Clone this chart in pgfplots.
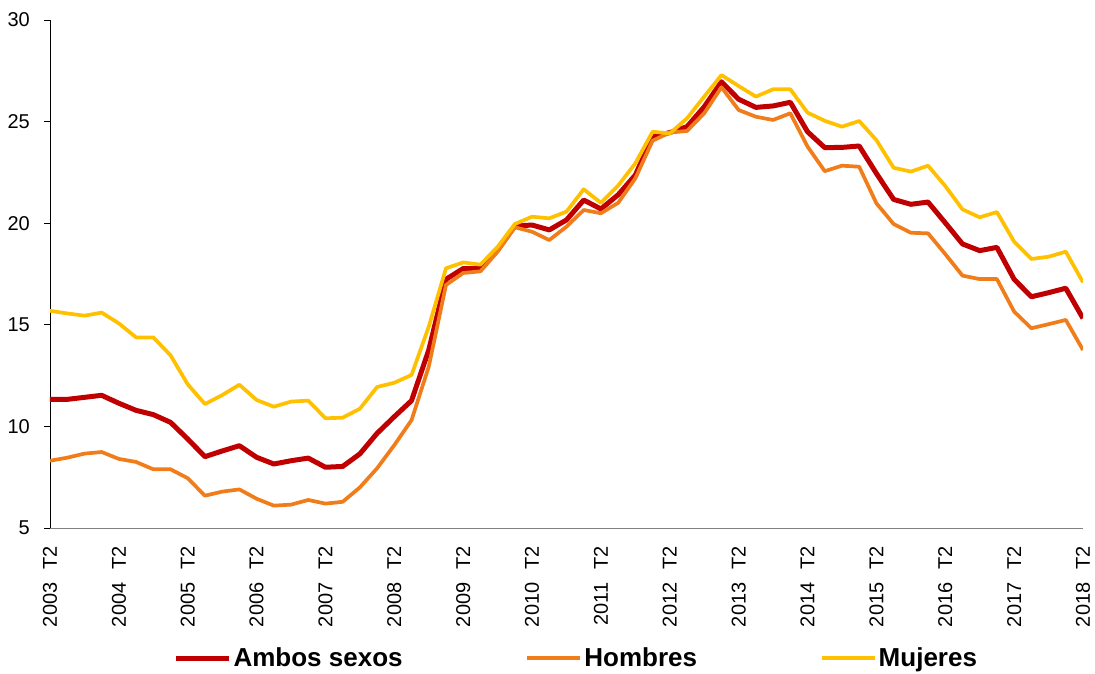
\documentclass[border=0pt]{standalone}
\usepackage{pgfplots}
\pgfplotsset{compat=1.18}
\usepackage{fontspec}
\setmainfont{Liberation Sans}
\definecolor{cAmbos}{HTML}{C00000}
\definecolor{cHom}{HTML}{F07D1A}
\definecolor{cMuj}{HTML}{FFC000}
\pgfplotstableread{
i ambos hombres mujeres
0 11.33 8.31 15.69
1 11.33 8.46 15.56
2 11.43 8.66 15.45
3 11.53 8.74 15.60
4 11.14 8.40 15.07
5 10.79 8.25 14.38
6 10.58 7.89 14.38
7 10.20 7.89 13.50
8 9.38 7.45 12.07
9 8.51 6.59 11.10
10 8.79 6.79 11.54
11 9.05 6.90 12.05
12 8.48 6.44 11.30
13 8.15 6.10 10.97
14 8.31 6.15 11.22
15 8.44 6.38 11.27
16 7.99 6.20 10.40
17 8.03 6.29 10.43
18 8.65 7.00 10.87
19 9.66 7.94 11.94
20 10.48 9.08 12.15
21 11.27 10.31 12.53
22 13.76 12.94 14.91
23 17.24 16.96 17.78
24 17.77 17.55 18.07
25 17.77 17.63 17.96
26 18.68 18.60 18.84
27 19.86 19.80 19.96
28 19.91 19.58 20.32
29 19.67 19.17 20.24
30 20.16 19.83 20.57
31 21.14 20.65 21.67
32 20.70 20.49 21.00
33 21.40 21.00 21.85
34 22.37 22.21 22.95
35 24.26 24.06 24.50
36 24.46 24.46 24.42
37 24.75 24.54 25.16
38 25.73 25.41 26.23
39 26.96 26.69 27.29
40 26.10 25.57 26.75
41 25.70 25.24 26.23
42 25.77 25.08 26.59
43 25.95 25.41 26.59
44 24.50 23.77 25.44
45 23.72 22.56 25.04
46 23.73 22.83 24.75
47 23.80 22.78 25.03
48 22.45 20.98 24.09
49 21.17 19.96 22.73
50 20.93 19.53 22.54
51 21.04 19.50 22.83
52 20.02 18.48 21.83
53 18.98 17.42 20.68
54 18.65 17.25 20.29
55 18.81 17.25 20.55
56 17.24 15.65 19.09
57 16.38 14.83 18.24
58 16.58 15.03 18.35
59 16.80 15.24 18.60
60 15.32 13.76 17.09
}\datatable
\begin{document}
\begin{tikzpicture}
\useasboundingbox (-50pt,-145pt) rectangle (1045pt,528pt);
\begin{axis}[
  at={(0,0)}, anchor=south west,
  scale only axis, width=1033pt, height=508pt,
  xmin=0, xmax=60, ymin=5, ymax=30,
  axis x line=bottom, axis y line=left,
  x axis line style={draw=gray, -},
  y axis line style={draw=black, -},
  xtick={0,4,...,60},
  xticklabels={2003\hspace{0.65em}T2,2004\hspace{0.65em}T2,2005\hspace{0.65em}T2,2006\hspace{0.65em}T2,2007\hspace{0.65em}T2,2008\hspace{0.65em}T2,2009\hspace{0.65em}T2,2010\hspace{0.65em}T2,2011\hspace{0.65em}T2,2012\hspace{0.65em}T2,2013\hspace{0.65em}T2,2014\hspace{0.65em}T2,2015\hspace{0.65em}T2,2016\hspace{0.65em}T2,2017\hspace{0.65em}T2,2018\hspace{0.65em}T2},
  x tick label style={rotate=90, anchor=east, font=\fontsize{20}{24}\selectfont, inner sep=0pt, xshift=-12pt},
  ytick={5,10,...,30},
  y tick label style={font=\fontsize{20}{24}\selectfont, inner sep=0pt, xshift=-14pt},
  /pgf/number format/assume math mode=true,
  tick align=outside,
  x tick style={draw=none},
  y tick style={draw=black, line width=0.8pt},
  major tick length=6pt,
  grid=none,
  legend columns=3,
  legend style={draw=none, fill=none, at={(0.509,-0.256)}, anchor=center,
    font=\fontsize{26}{30}\selectfont\bfseries,
    nodes={inner sep=1pt},
    /tikz/every even column/.append style={column sep=122pt},
    /tikz/every odd column/.append style={column sep=1pt}},
  legend cell align=left,
  legend image code/.code={\draw[#1] (0pt,0pt) -- (53pt,0pt);},
]
\addplot[cAmbos, line width=5pt, line join=round] table[x=i, y=ambos] {\datatable};
\addlegendentry{Ambos sexos}
\addplot[cHom, line width=3.7pt, line join=round] table[x=i, y=hombres] {\datatable};
\addlegendentry{Hombres}
\addplot[cMuj, line width=3.7pt, line join=round] table[x=i, y=mujeres] {\datatable};
\addlegendentry{Mujeres}
\end{axis}
\end{tikzpicture}
\end{document}
